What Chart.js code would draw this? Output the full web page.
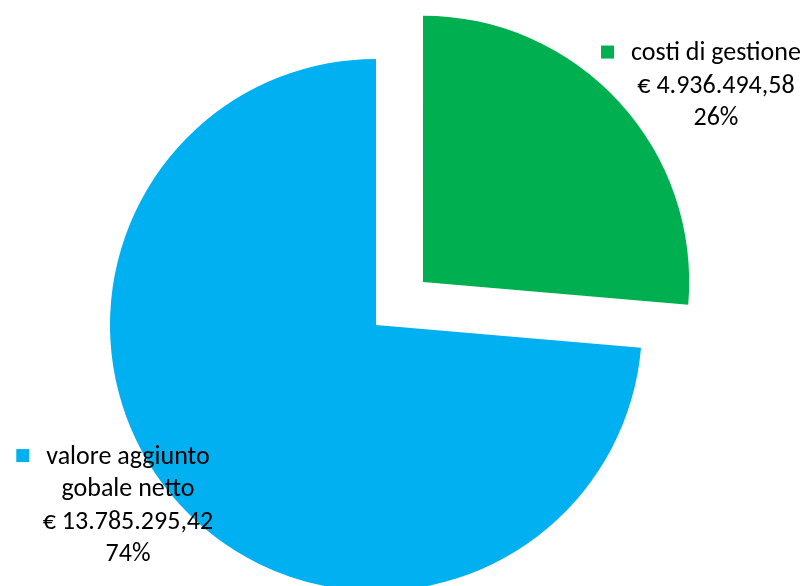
<!DOCTYPE html>
<html>
<head>
<meta charset="utf-8">
<script src="https://cdn.jsdelivr.net/npm/chart.js@4/dist/chart.umd.min.js"></script>
<style>
  html, body { margin: 0; padding: 0; background: #fff; }
  #wrap { width: 808px; height: 586px; }
</style>
</head>
<body>
<div id="wrap"><canvas id="pie" width="808" height="586"></canvas></div>
<script>
// dati del grafico
const categories = ['costi di gestione', 'valore aggiunto gobale netto'];
const labelLines = [['costi di gestione'], ['valore aggiunto', 'gobale netto']];
const values = [4936494.58, 13785295.42];
const amountLabels = ['€ 4.936.494,58', '€ 13.785.295,42'];
const percentLabels = ['26%', '74%'];
const colors = ['#00B050', '#00B0F0'];

const FONT = "Carlito, 'Open Sans', sans-serif";

// etichette tipo Excel: quadratino colore + testo centrato
const sliceLabels = {
    id: 'sliceLabels',
    afterDatasetsDraw(chart) {
        const ctx = chart.ctx;
        const meta = chart.getDatasetMeta(0);
        // spostamento dell'etichetta rispetto al bordo della fetta
        const shifts = [[97, -16], [-52, 1]];
        const lineH = 32.5;
        ctx.save();
        ctx.font = '26px ' + FONT;
        ctx.fillStyle = '#000';
        ctx.textAlign = 'center';
        ctx.textBaseline = 'middle';
        meta.data.forEach((arc, i) => {
            const p = arc.getProps(['x', 'y', 'startAngle', 'endAngle', 'outerRadius'], true);
            const mid = (p.startAngle + p.endAngle) / 2;
            const off = (arc.options.offset || 0) / 4;
            const cx = p.x + Math.cos(mid) * (p.outerRadius + off) + shifts[i][0];
            const cy = p.y + Math.sin(mid) * (p.outerRadius + off) + shifts[i][1];
            const lines = [...labelLines[i], amountLabels[i], percentLabels[i]];
            const top = cy - (lines.length - 1) * lineH / 2;
            lines.forEach((t, k) => {
                ctx.fillText(t, cx, top + k * lineH);
            });
            // quadratino della legenda accanto alla prima riga
            const w0 = ctx.measureText(lines[0]).width;
            ctx.fillStyle = colors[i];
            ctx.fillRect(cx - w0 / 2 - 30, top - 8, 13, 13);
            ctx.fillStyle = '#000';
        });
        ctx.restore();
    }
};

new Chart(document.getElementById('pie'), {
    type: 'pie',
    data: {
        labels: categories,
        datasets: [{
            data: values,
            backgroundColor: colors,
            borderWidth: 0,
            offset: [255, 0]
        }]
    },
    options: {
        responsive: false,
        animation: false,
        radius: 266,
        layout: { padding: { left: 0, right: 56, top: 64, bottom: 0 } },
        plugins: { legend: { display: false }, tooltip: { enabled: false } }
    },
    plugins: [sliceLabels]
});
</script>
</body>
</html>
